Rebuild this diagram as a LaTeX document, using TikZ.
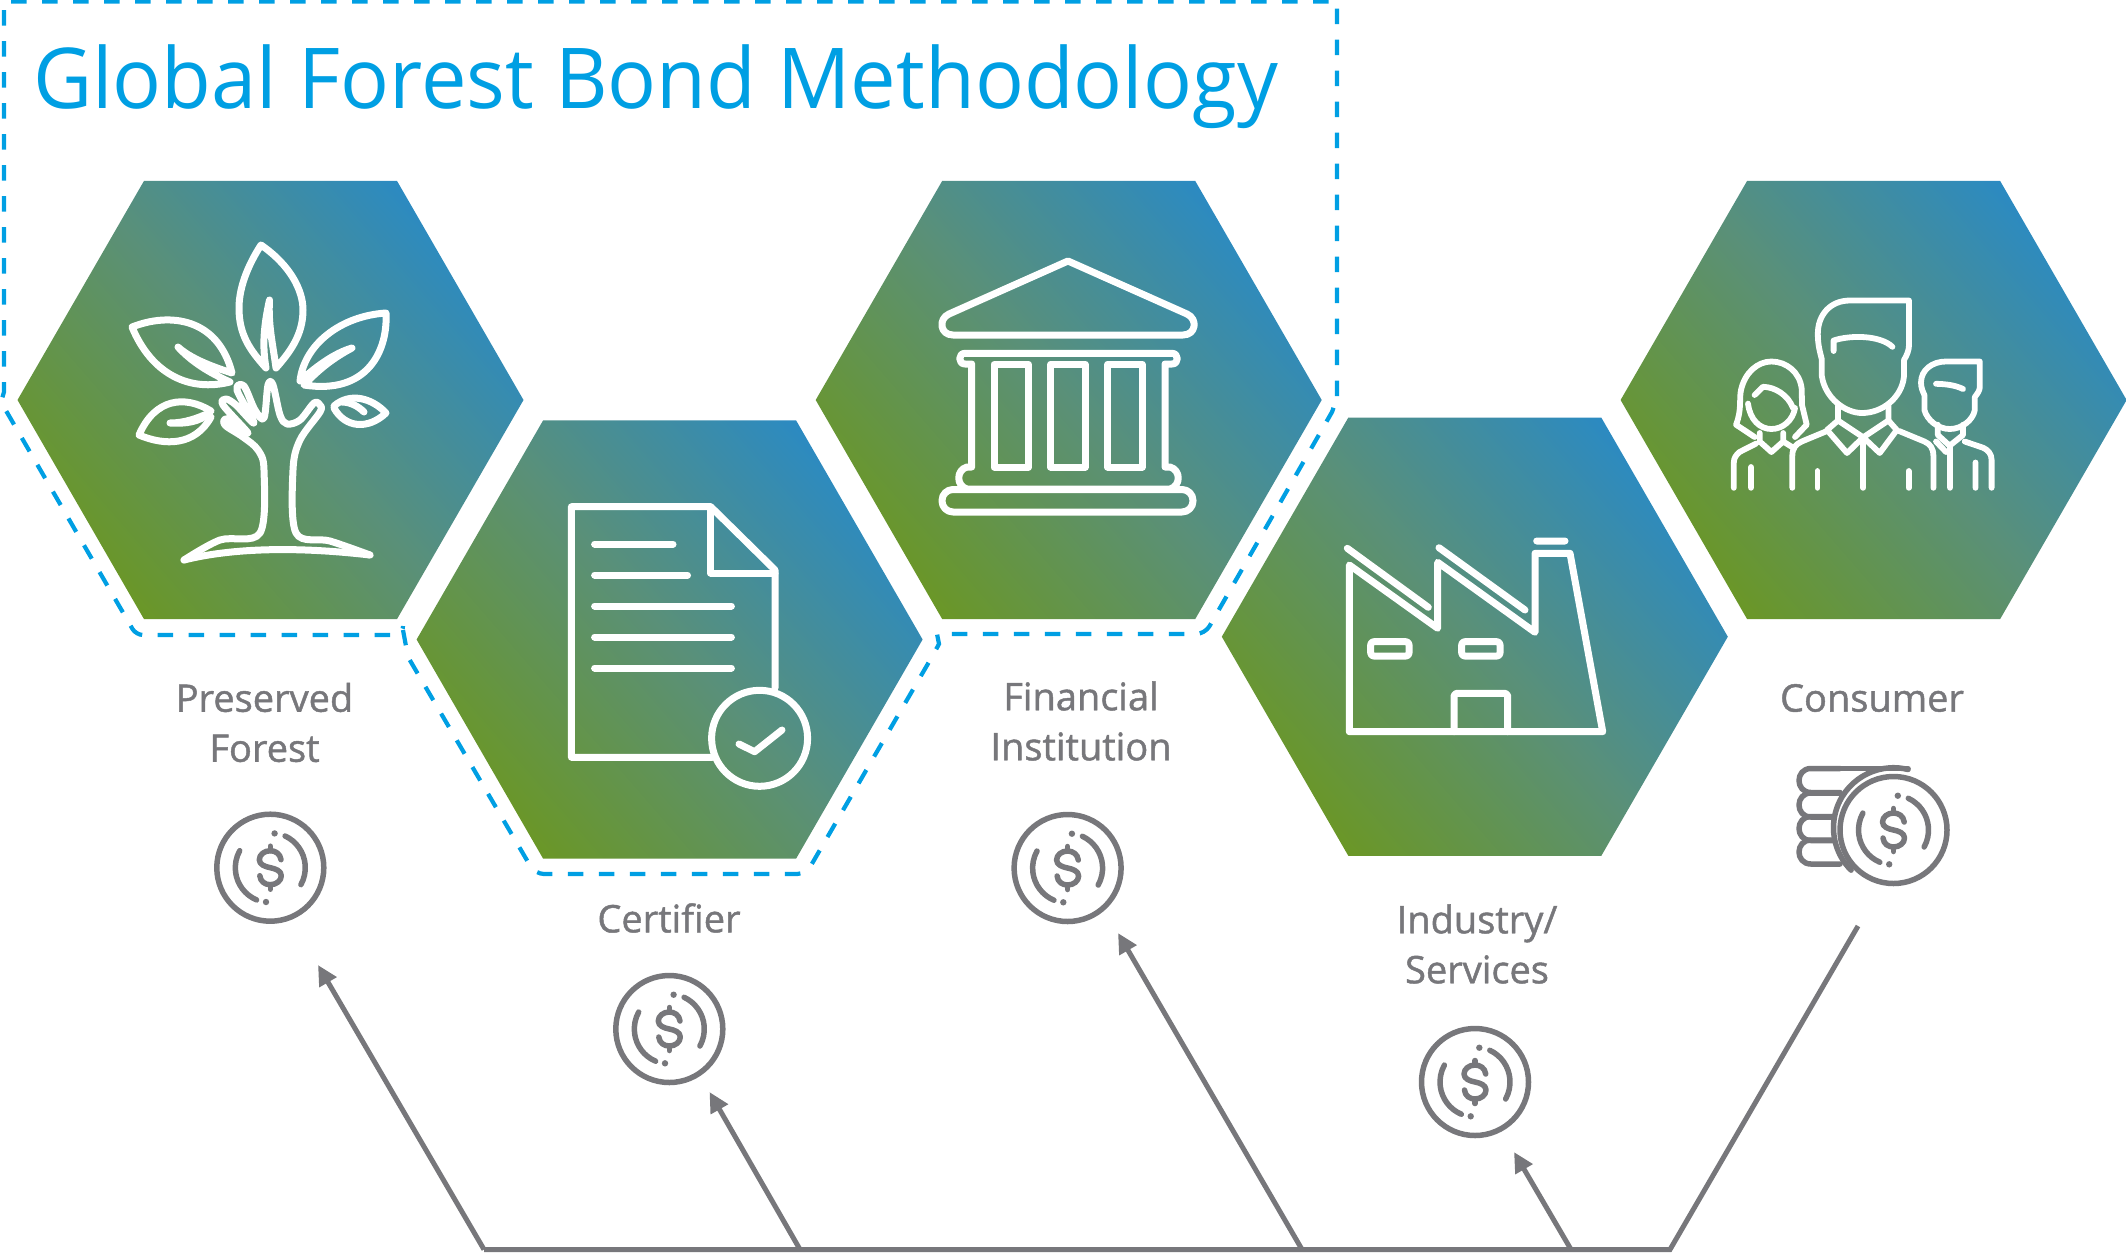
\documentclass[tikz,border=0pt]{standalone}
\usepackage{xcolor}
\usepackage{fontspec}
\usepackage{tikz}
\usetikzlibrary{shapes.geometric, arrows.meta}
\setmainfont{Open Sans}
\newfontfamily\titlefont[FakeStretch=0.967]{Open Sans}
\newfontfamily\labelfont[FakeBold=1.2]{Open Sans}
\definecolor{LeafGreen}{HTML}{6B9724}
\definecolor{MossMid}{HTML}{5A9078}
\definecolor{SkyBlue}{HTML}{2A8AC4}
\definecolor{TitleBlue}{HTML}{009FE3}
\definecolor{CoinGray}{HTML}{77777B}
\pgfdeclareverticalshading{hexgrad}{100bp}{color(0bp)=(LeafGreen); color(24bp)=(LeafGreen); color(50bp)=(MossMid); color(76bp)=(SkyBlue); color(100bp)=(SkyBlue)}
\tikzset{
  hexcell/.style={regular polygon, regular polygon sides=6, minimum size=506pt, inner sep=0pt, outer sep=0pt, shading=hexgrad, shading angle=-49},
  iconline/.style={white, line width=7pt, line cap=round, line join=round},
  peopleline/.style={white, line width=5.8pt, line cap=round, line join=round},
  dashline/.style={TitleBlue, line width=4.2pt, dash pattern=on 15.5pt off 15.5pt},
  cointext/.style={text=CoinGray, font=\labelfont\fontsize{38}{50}\selectfont, align=center, inner sep=0pt},
  coinline/.style={CoinGray, line width=5.5pt, line cap=round, line join=round},
  flowline/.style={CoinGray, line width=5pt, line join=miter},
  flowarrow/.style={CoinGray, line width=5pt, -{Triangle[length=20pt,width=19pt]}},
  coin/.pic={
    \draw[CoinGray, line width=5.5pt] (0,0) circle[radius=53.5];
    \draw[coinline] (-65:35) arc[start angle=-65, end angle=29, radius=35];
    \draw[coinline] (113:35) arc[start angle=113, end angle=209, radius=35];
    \fill[CoinGray] (4.3,-34.3) circle[radius=3.2] (-4.3,34.3) circle[radius=3.2];
    % Dollar sign
    \draw[coinline] (10.7,-8) .. controls (10,-14) and (5,-17) .. (0,-17)
      .. controls (-6,-17) and (-11,-13) .. (-11,-8)
      .. controls (-11,-3) and (-5,-1) .. (0,0)
      .. controls (5,1) and (11,3) .. (11,8)
      .. controls (11,13) and (6,17) .. (0,17)
      .. controls (-5,17) and (-10,14) .. (-10.5,8);
    \draw[coinline] (0,-21.5) -- (0,-17) (0,17) -- (0,21.5);
  }
}
\begin{document}
\begin{tikzpicture}[x=1pt, y=-1pt]
  \useasboundingbox (0,0) rectangle (2127,1254);
  % Hexagons
  \node[hexcell] (hexForest) at (270.5,400) {};
  \node[hexcell] (hexCertifier) at (669.6,639.5) {};
  \node[hexcell] (hexBank) at (1068.7,400) {};
  \node[hexcell] (hexIndustry) at (1474.8,636.7) {};
  \node[hexcell] (hexConsumer) at (1873.6,400) {};
  % Dashed boundary
  \draw[dashline]
    (1337,396) -- (1337,1.5) -- (4,1.5) -- (4,392) -- (1,402) [rounded corners=7pt] -- (136,635) -- (402,635) [sharp corners] -- (403,626);
  \draw[dashline]
    (403,630) -- (408,657) [rounded corners=9pt] -- (535,874) -- (806,874) [sharp corners] -- (933,655) -- (939,644) -- (937,634)
    [rounded corners=9pt] -- (1205,634) [sharp corners] -- (1332,412) -- (1337,398);
  % Title
  \node[text=TitleBlue, font=\titlefont\fontsize{84}{100}\selectfont, inner sep=0pt, anchor=base west] (title) at (33,108) {Global Forest Bond Methodology};
  % Labels
  \node[cointext] (lblForest) at (264.5,722.5) {Preserved\\Forest};
  \node[cointext] (lblCertifier) at (669,918) {Certifier};
  \node[cointext] (lblBank) at (1081,721) {Financial\\Institution};
  \node[cointext] (lblIndustry) at (1477,944) {Industry/\\Services};
  \node[cointext] (lblConsumer) at (1872,698) {Consumer};
  % Coins
  \foreach \cx/\cy in {270.3/867.7, 669.3/1029, 1067.6/868, 1475/1082}{
    \pic at (\cx,\cy) {coin};
  }
  % Coin stack
  \foreach \yy in {768.5, 793, 816.5, 840}{
    \draw[coinline] (1840,\yy) -- (1811,\yy) .. controls (1795,\yy) and (1795,\yy+24) .. (1811,\yy+24) -- (1840,\yy+24);
  }
  \draw[coinline] (1811,768.5) -- (1908,768.5);
  \fill[white] (1893.5,830) circle[radius=59];
  \draw[coinline] (1908,769.5) arc[start angle=-76, end angle=-225, radius=60];
  \pic at (1893.5,830) {coin};
  % Connectors
  \coordinate (busLeft) at (484,1249.5);
  \coordinate (busCertifier) at (800,1249.5);
  \coordinate (busBank) at (1302,1249.5);
  \coordinate (busIndustry) at (1571,1249.5);
  \coordinate (busRight) at (1670,1249.5);
  \coordinate (endConsumer) at (1858,926);
  \coordinate (endForest) at (318,965);
  \coordinate (endCertifier) at (709.5,1092);
  \coordinate (endBank) at (1118,933);
  \coordinate (endIndustry) at (1514,1152);
  \draw[flowline] (busLeft) -- (busRight) -- (endConsumer);
  \draw[flowarrow] (busLeft) -- (endForest);
  \draw[flowarrow] (busCertifier) -- (endCertifier);
  \draw[flowarrow] (busBank) -- (endBank);
  \draw[flowarrow] (busIndustry) -- (endIndustry);
  % Tree
  \draw[iconline] (261,245) .. controls (290,265) and (303,290) .. (303,310) .. controls (303,335) and (290,352) .. (276,368)
    .. controls (273,345) and (268,325) .. (269.5,300) .. controls (264,325) and (262,345) .. (266,368)
    .. controls (250,350) and (239,335) .. (239,308) .. controls (239,285) and (250,262) .. (261,245) -- cycle;
  \draw[iconline] (386,313) .. controls (388,350) and (368,395) .. (304,385) .. controls (320,368) and (335,357) .. (352,348)
    .. controls (335,353) and (318,365) .. (300,381) .. controls (304,345) and (340,316) .. (386,313) -- cycle;
  \draw[iconline] (132,327) .. controls (170,312) and (218,318) .. (232,373) .. controls (210,366) and (190,358) .. (178,347)
    .. controls (192,362) and (208,372) .. (230,382) .. controls (190,392) and (152,375) .. (132,327) -- cycle;
  \draw[iconline] (211,411) .. controls (185,395) and (155,398) .. (139,435) .. controls (165,446) and (195,446) .. (211,417);
  \draw[iconline] (170,423) .. controls (185,423) and (198,418) .. (209,413) .. controls (200,422) and (185,424) .. (170,423) -- cycle;
  \draw[iconline] (334,406) .. controls (350,392) and (372,398) .. (386,413) .. controls (368,430) and (345,428) .. (334,408);
  \draw[iconline] (342,402) .. controls (350,402) and (358,406) .. (364,412);
  \draw[iconline] plot[smooth, tension=.55] coordinates {(184,560) (220,540) (260,533) (264,470) (258,450) (243,437) (226,426) (224,420) (230,420) (248,433)
    (223,405) (226,399) (236,405) (254,423) (237,390) (244,386) (255,410) (264,418) (268,385) (273,385) (280,415) (287,424) (300,420) (314,403) (320,405) (320,412) (300,440) (293,470) (296,533) (330,541) (370,555)};
  \draw[iconline] (370,555) .. controls (310,548) and (240,546) .. (184,560);
  % Document
  \draw[iconline] (775,688) -- (775,570) -- (710.7,506.7) -- (571.4,506.7) -- (571.4,757.3) -- (712.5,757.3);
  \draw[iconline] (710.7,506.7) -- (710.7,573) -- (775,573);
  \foreach \yy/\xe in {544/673, 575/687.5, 606/731.4, 637/731.4, 668/731.4}{
    \draw[iconline] (594.6,\yy) -- (\xe,\yy);
  }
  \draw[iconline] (759.6,738.3) circle[radius=48];
  \draw[iconline] (739,744) -- (754.6,751.7) -- (782,730);
  % Bank
  \draw[iconline] (1068,261) -- (1187,314) .. controls (1198,319) and (1196,335) .. (1183,335) -- (953,335) .. controls (940,335) and (938,319) .. (949,314) -- cycle;
  \draw[iconline] (971.7,364) -- (965,364) .. controls (958,364) and (958,353.3) .. (965,353.3) -- (1172,353.3) .. controls (1179,353.3) and (1179,364) .. (1172,364) -- (1165,364) -- (1165,467) -- (1170,467)
    .. controls (1181,470) and (1181,486) .. (1170,489) -- (967,489) .. controls (956,486) and (956,470) .. (967,467) -- (971.7,467) -- cycle;
  \draw[iconline, rounded corners=11pt] (942,489.5) rectangle (1193,512);
  \foreach \xx in {994, 1050.7, 1107.7}{
    \draw[iconline] (\xx,364.3) rectangle (\xx+34.5,467);
  }
  % Factory
  \draw[iconline] (1349.3,731.7) -- (1349.3,565) -- (1437.7,628.3) -- (1437.7,562.3) -- (1535,632.3) -- (1535,553.3) -- (1570,553.3) -- (1602.7,731.7) -- cycle;
  \draw[iconline] (1536.7,541) -- (1565,541) (1347.3,548.3) -- (1428.3,607.3) (1439,547.7) -- (1525,610);
  \draw[iconline, rounded corners=3pt] (1370.7,641.7) rectangle (1409,656) (1461.7,641.7) rectangle (1500,656);
  \draw[iconline, rounded corners=3pt] (1454,731.7) -- (1454,693.3) -- (1507.7,693.3) -- (1507.7,731.7);
  % People
  \draw[peopleline] (1909,300.5) -- (1850,300.5) .. controls (1830,300.5) and (1817.8,315) .. (1817.8,334) .. controls (1817.8,345) and (1820,352) .. (1821.8,359.4)
    -- (1821.8,376) .. controls (1825,398) and (1845,413) .. (1862,413) .. controls (1882,413) and (1902,398) .. (1904,376) -- (1904,360) .. controls (1907,355) and (1909,350) .. (1909,345) -- cycle;
  \draw[peopleline] (1833.6,351) -- (1833.6,340.5) .. controls (1850,335) and (1880,335) .. (1892.4,346.8);
  \draw[peopleline] (1838,405.7) -- (1838,420.5) -- (1863.2,437.3) -- (1888.4,420.5) -- (1888.4,405.7);
  \draw[peopleline] (1838,420.5) -- (1827,430) -- (1847,453) -- (1863.2,437.3) -- (1879.7,453) -- (1896.8,430) -- (1888.4,420.5);
  \draw[peopleline] (1863.2,437.3) -- (1863.2,487.8);
  \draw[peopleline] (1827,431) -- (1801.7,441.5) .. controls (1796,444) and (1792.3,448) .. (1792.3,456) -- (1792.3,487.8);
  \draw[peopleline] (1899,431) -- (1924.4,441.5) .. controls (1930,444) and (1933.4,448) .. (1933.4,456) -- (1933.4,487.8);
  \draw[peopleline] (1817.5,471) -- (1817.5,487.8) (1908.6,471) -- (1908.6,487.8);
  \draw[peopleline] (1754.6,437) -- (1736,424.7) .. controls (1742,410) and (1739,398) .. (1741,390) .. controls (1745,372) and (1758,361.5) .. (1771.4,361.5) .. controls (1786,361.5) and (1800,372) .. (1801.7,389) -- (1802,405) -- (1806.7,424.7) -- (1795,437);
  \draw[peopleline] (1748,403.6) .. controls (1750,420) and (1760,429) .. (1771.4,429) .. controls (1783,429) and (1793,420) .. (1795,408);
  \draw[peopleline] (1754.6,395) -- (1763,386.8) .. controls (1775,387) and (1788,395) .. (1793,408);
  \draw[peopleline] (1759.7,433) -- (1759.7,441.5) -- (1771.4,452) -- (1783.2,441.5) -- (1783.2,433) (1783.2,441.5) -- (1792,447);
  \draw[peopleline] (1756,443.6) -- (1739.5,452) .. controls (1736,455) and (1733.8,458) .. (1733.8,462.5) -- (1733.8,487.8) (1751,467) -- (1751,487.8);
  \draw[peopleline] (1979.8,361.5) -- (1946,361.5) .. controls (1932,361.5) and (1921,370) .. (1921,382.6) .. controls (1921,388) and (1923,392) .. (1924.4,395) -- (1924.4,410)
    .. controls (1927,420) and (1938,429) .. (1949.6,429) .. controls (1962,429) and (1973,420) .. (1974.8,410) -- (1974.8,397) .. controls (1978,393) and (1979.8,390) .. (1979.8,386.8) -- cycle;
  \draw[peopleline] (1936,383.8) .. controls (1945,384) and (1955,385) .. (1963,389);
  \draw[peopleline] (1937.8,424.7) -- (1937.8,435) -- (1949.6,445.7) -- (1963,435) -- (1963,424.7) (1950,445.7) -- (1950,487.8);
  \draw[peopleline] (1964.7,441.5) -- (1983.2,447.8) .. controls (1988,450) and (1991.6,454) .. (1991.6,460) -- (1991.6,487.8) (1975.5,462.5) -- (1975.5,487.8);
  \draw[peopleline] (1936,441.5) -- (1946,452);
\end{tikzpicture}
\end{document}
